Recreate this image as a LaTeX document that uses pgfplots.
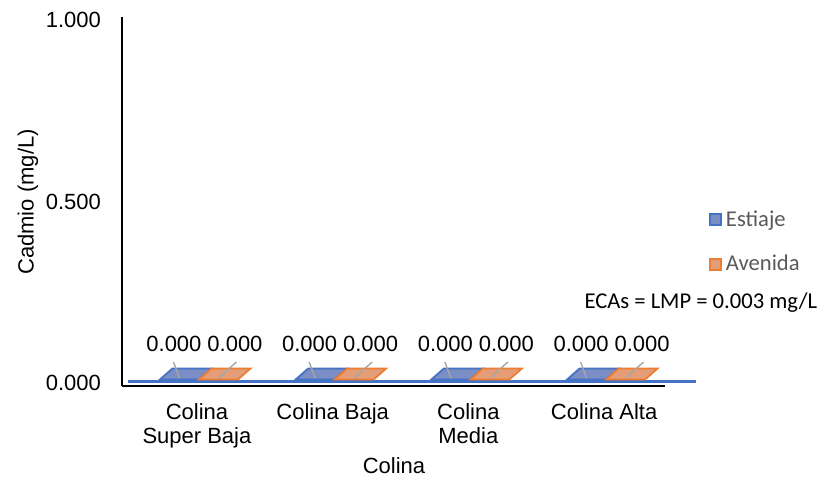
\documentclass[border=0pt]{standalone}
\usepackage{fontspec}
\setmainfont{Liberation Sans}
\newfontfamily\calibri{Carlito}
\usepackage{pgfplots}
\pgfplotsset{compat=1.18}

\definecolor{estB}{HTML}{4472C4}
\definecolor{estF}{HTML}{7A8DC5}
\definecolor{aveB}{HTML}{ED7D31}
\definecolor{aveF}{HTML}{E59D78}
\definecolor{lead}{HTML}{A6A6A6}
\definecolor{legtxt}{HTML}{595959}

% flat 3D top face of a zero-height bar, with its label leader line
\pgfdeclareplotmark{floorE}{%
  \pgfsetlinewidth{0.9pt}%
  \pgfsetstrokecolor{estB}\pgfsetfillcolor{estF}%
  \pgfpathmoveto{\pgfpoint{-9.75pt}{1.75pt}}%
  \pgfpathlineto{\pgfpoint{9.75pt}{1.75pt}}%
  \pgfpathlineto{\pgfpoint{16pt}{7.25pt}}%
  \pgfpathlineto{\pgfpoint{-3.5pt}{7.25pt}}%
  \pgfpathclose
  \pgfusepath{fill,stroke}%
  \pgfsetlinewidth{0.7pt}\pgfsetstrokecolor{lead}%
  \pgfpathmoveto{\pgfpoint{-3pt}{10.5pt}}%
  \pgfpathlineto{\pgfpoint{0pt}{2.5pt}}%
  \pgfusepath{stroke}%
}
\pgfdeclareplotmark{floorA}{%
  \pgfsetlinewidth{0.9pt}%
  \pgfsetstrokecolor{aveB}\pgfsetfillcolor{aveF}%
  \pgfpathmoveto{\pgfpoint{-9.75pt}{1.75pt}}%
  \pgfpathlineto{\pgfpoint{9.75pt}{1.75pt}}%
  \pgfpathlineto{\pgfpoint{16pt}{7.25pt}}%
  \pgfpathlineto{\pgfpoint{-3.5pt}{7.25pt}}%
  \pgfpathclose
  \pgfusepath{fill,stroke}%
  \pgfsetlinewidth{0.7pt}\pgfsetstrokecolor{lead}%
  \pgfpathmoveto{\pgfpoint{9pt}{10.5pt}}%
  \pgfpathlineto{\pgfpoint{0pt}{2.5pt}}%
  \pgfusepath{stroke}%
}

% Cadmio (mg/L) per zone
\pgfplotstableread{
x      est
-0.1437 0.000
0.8563  0.000
1.8563  0.000
2.8563  0.000
}\estiaje
\pgfplotstableread{
x      ave
0.1437 0.000
1.1437 0.000
2.1437 0.000
3.1437 0.000
}\avenida

\begin{document}
\begin{tikzpicture}
\path[use as bounding box] (0,0) rectangle (410.5pt,243.5pt);
\begin{axis}[
  at={(61pt,50.5pt)}, anchor=south west,
  scale only axis, width=271.5pt, height=184.5pt,
  xmin=-0.567, xmax=3.434,
  ymin=-0.00826, ymax=1.00826,
  clip=false,
  axis x line*=bottom, axis y line*=left,
  axis line style={-, black, line width=1pt},
  major tick length=0pt,
  font=\fontsize{11}{13}\selectfont,
  xtick={0,1,2,3},
  xticklabels={Colina\\Super Baja, Colina Baja, Colina\\Media, Colina Alta},
  xticklabel style={align=center, anchor=north, yshift=-5pt, xshift=-1pt,
    font=\fontsize{11}{12}\selectfont},
  ytick={0,0.5,1},
  yticklabel style={xshift=-7pt},
  /pgf/number format/.cd, fixed, zerofill, precision=3, assume math mode=true,
  /pgfplots/.cd,
  xlabel={Colina},
  xlabel style={at={(axis description cs:0.501,0)}, anchor=center, yshift=-40pt},
  ylabel={Cadmio (mg/L)},
  ylabel style={at={(axis description cs:-0.1731,0.4986)}, anchor=center},
  legend style={at={(axis description cs:1.081,0.39)}, anchor=west, draw=none, fill=none,
    font=\calibri\fontsize{11.3}{13}\selectfont, text=legtxt, row sep=9pt,
    inner sep=0pt, cells={anchor=west}},
  nodes near coords={\pgfmathprintnumber[fixed,zerofill,precision=3]{\pgfplotspointmeta}},
  point meta=y,
]
% legend keys
\addlegendimage{legend image code/.code={\draw[draw=estB,fill=estF,line width=0.8pt] (0pt,-2.75pt) rectangle (5.5pt,2.75pt);}}
\addlegendentry{Estiaje}
\addlegendimage{legend image code/.code={\draw[draw=aveB,fill=aveF,line width=0.8pt] (0pt,-2.75pt) rectangle (5.5pt,2.75pt);}}
\addlegendentry{Avenida}

% ECA limit line
\addplot[estB, line width=1.5pt, no marks, forget plot, nodes near coords={}]
  coordinates {(-0.523,0.003) (3.662,0.003)};

\addplot[only marks, mark=floorE, forget plot,
  nodes near coords style={anchor=center, xshift=-2.75pt, yshift=19.5pt,
    font=\fontsize{11}{13}\selectfont}]
  table[x=x, y=est] {\estiaje};
\addplot[only marks, mark=floorA, forget plot,
  nodes near coords style={anchor=center, xshift=8.25pt, yshift=19.5pt,
    font=\fontsize{11}{13}\selectfont}]
  table[x=x, y=ave] {\avenida};

\node[anchor=center, font=\calibri\fontsize{11.3}{13}\selectfont]
  at (axis description cs:1.066,0.227) {ECAs = LMP = 0.003 mg/L};
\end{axis}
\end{tikzpicture}
\end{document}
